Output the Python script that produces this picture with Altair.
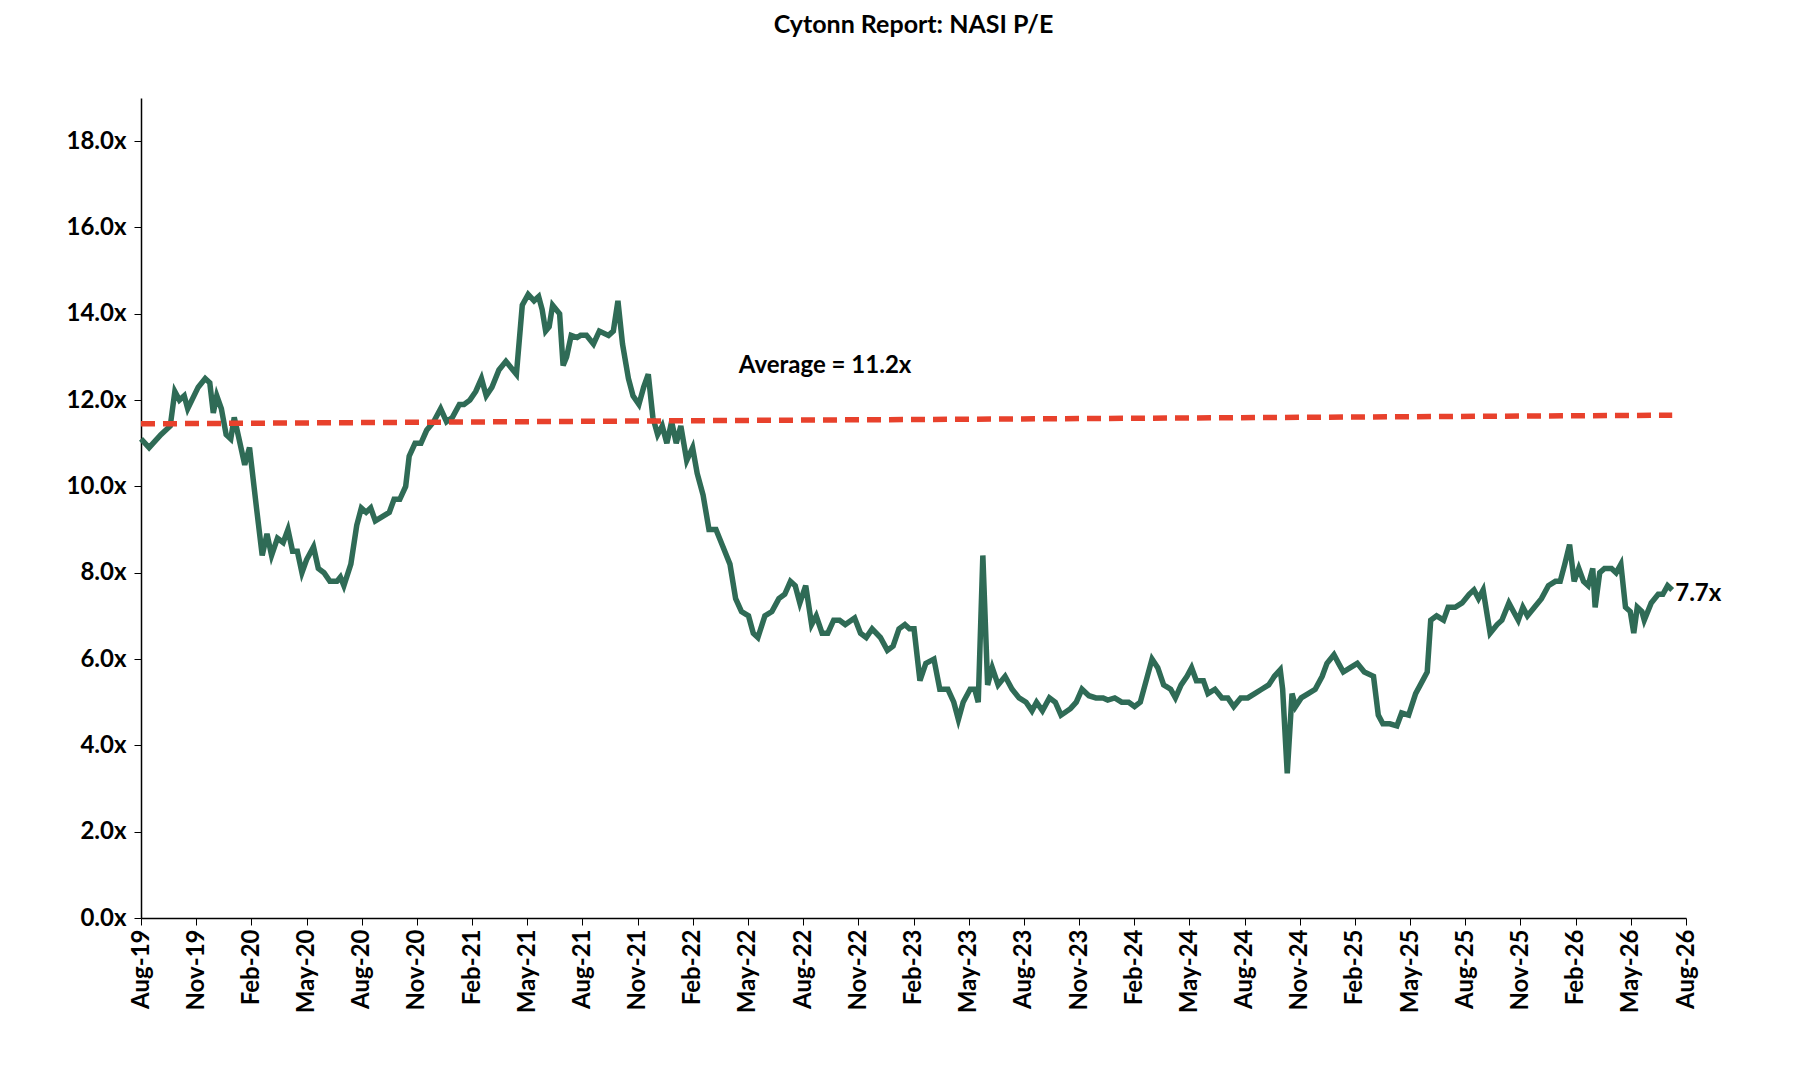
import altair as alt
import pandas as pd

# months since Aug-2019
t = [0,0.44,1.08,1.59,1.84,2.09,2.35,2.54,3.11,3.49,
3.74,3.93,4.12,4.37,4.63,4.88,5.07,5.33,5.64,5.90,
6.28,6.59,6.85,7.10,7.42,7.73,7.99,8.24,8.50,8.75,
9.00,9.38,9.64,9.95,10.27,10.65,10.84,11.03,11.41,11.73,
11.98,12.24,12.49,12.74,13.12,13.50,13.76,14.07,14.39,14.58,
14.90,15.22,15.53,15.91,16.29,16.61,16.93,17.31,17.56,17.88,
18.20,18.51,18.77,19.08,19.46,19.84,20.22,20.41,20.73,21.05,
21.37,21.62,21.81,22.00,22.19,22.38,22.76,22.95,23.14,23.39,
23.71,23.90,24.22,24.60,24.92,25.42,25.68,25.93,26.18,26.50,
26.75,27.07,27.33,27.58,27.83,28.09,28.34,28.59,28.85,29.10,
29.35,29.67,29.99,30.24,30.56,30.88,31.26,31.64,32.02,32.33,
32.65,33.03,33.29,33.54,33.92,34.30,34.68,35.00,35.31,35.57,
35.82,36.14,36.46,36.71,37.03,37.34,37.66,37.98,38.29,38.80,
39.12,39.43,39.75,40.20,40.58,40.89,41.21,41.53,41.78,42.03,
42.35,42.67,43.11,43.43,43.87,44.19,44.44,44.70,45.08,45.33,
45.52,45.77,46.03,46.28,46.60,46.98,47.36,47.74,48.12,48.44,
48.69,49.01,49.39,49.71,50.02,50.53,50.85,51.16,51.54,51.92,
52.31,52.56,52.94,53.32,53.70,54.02,54.33,54.65,54.97,55.28,
55.60,55.98,56.24,56.55,56.87,57.12,57.38,57.76,58.01,58.39,
58.77,59.09,59.41,59.79,60.17,60.55,60.93,61.31,61.62,61.94,
62.07,62.32,62.58,62.77,63.08,63.46,63.84,64.22,64.48,64.86,
65.11,65.37,65.75,66.13,66.51,67.01,67.27,67.52,67.90,68.28,
68.54,68.92,69.30,69.68,69.93,70.12,70.44,70.82,71.07,71.45,
71.83,72.21,72.47,72.72,72.97,73.35,73.73,73.99,74.37,74.62,
74.88,75.13,75.38,75.76,76.14,76.52,76.90,77.16,77.41,77.67,
77.92,78.17,78.43,78.68,78.93,79.06,79.31,79.57,79.95,80.20,
80.46,80.71,80.97,81.16,81.35,81.60,81.73,82.11,82.49,82.74,
83.00,83.25]

pe = [11.1,10.9,11.2,11.4,12.2,12.0,12.1,11.8,12.3,12.5,
12.4,11.7,12.1,11.8,11.2,11.1,11.6,11.1,10.5,10.9,
9.5,8.4,8.9,8.4,8.8,8.7,9.0,8.5,8.5,8.0,
8.3,8.6,8.1,8.0,7.8,7.8,7.9,7.7,8.2,9.1,
9.5,9.4,9.5,9.2,9.3,9.4,9.7,9.7,10.0,10.7,
11.0,11.0,11.3,11.5,11.8,11.5,11.6,11.9,11.9,12.0,
12.2,12.5,12.1,12.3,12.7,12.9,12.7,12.6,14.2,14.45,
14.3,14.4,14.1,13.6,13.7,14.2,14.0,12.8,13.0,13.5,
13.45,13.5,13.5,13.3,13.6,13.5,13.6,14.3,13.3,12.5,
12.1,11.9,12.3,12.6,11.6,11.2,11.4,11.0,11.5,11.0,
11.4,10.6,10.9,10.3,9.8,9.0,9.0,8.6,8.2,7.4,
7.1,7.0,6.6,6.5,7.0,7.1,7.4,7.5,7.8,7.7,
7.3,7.7,6.8,7.0,6.6,6.6,6.9,6.9,6.8,6.95,
6.6,6.5,6.7,6.5,6.2,6.3,6.7,6.8,6.7,6.7,
5.5,5.9,6.0,5.3,5.3,5.0,4.6,5.0,5.3,5.3,
5.0,8.4,5.4,5.8,5.4,5.6,5.3,5.1,5.0,4.8,
5.0,4.8,5.1,5.0,4.7,4.85,5.0,5.3,5.15,5.1,
5.1,5.05,5.1,5.0,5.0,4.9,5.0,5.5,6.0,5.8,
5.4,5.3,5.1,5.4,5.6,5.8,5.5,5.5,5.2,5.3,
5.1,5.1,4.9,5.1,5.1,5.2,5.3,5.4,5.6,5.75,
5.3,3.35,5.2,4.9,5.1,5.2,5.3,5.6,5.9,6.1,
5.9,5.7,5.8,5.9,5.7,5.6,4.7,4.5,4.5,4.45,
4.75,4.7,5.2,5.5,5.7,6.9,7.0,6.9,7.2,7.2,
7.3,7.5,7.6,7.4,7.6,6.6,6.8,6.9,7.3,7.1,
6.9,7.2,7.0,7.2,7.4,7.7,7.8,7.8,8.2,8.65,
7.8,8.1,7.8,7.7,8.1,7.2,8.0,8.1,8.1,8.0,
8.2,7.2,7.1,6.6,7.2,7.1,6.9,7.3,7.5,7.5,
7.7,7.6]

tick_labels = ["Aug-19","Nov-19","Feb-20","May-20","Aug-20","Nov-20","Feb-21","May-21",
               "Aug-21","Nov-21","Feb-22","May-22","Aug-22","Nov-22","Feb-23","May-23",
               "Aug-23","Nov-23","Feb-24","May-24","Aug-24","Nov-24","Feb-25","May-25",
               "Aug-25","Nov-25","Feb-26","May-26","Aug-26"]
avg_t = [0, 83.25]
avg_v = [11.45, 11.65]
avg_label = "Average = 11.2x"
last_label = "7.7x"

FONT = "Lato"
n = min(len(t), len(pe))
df = pd.DataFrame({"t": t[:n], "pe": pe[:n]})
avg_df = pd.DataFrame({"t": avg_t, "v": avg_v})

xs = alt.Scale(domain=[0, 84], nice=False)
ys = alt.Scale(domain=[0, 19], nice=False)
lab_js = "[" + ",".join(f"'{l}'" for l in tick_labels) + "]"
xaxis = alt.Axis(values=list(range(0, 85, 3)), labelExpr=f"{lab_js}[round(datum.value/3)]",
                 labelAngle=270, labelFontSize=24, labelFontWeight="bold", labelFont=FONT,
                 labelColor="black", grid=False, domainColor="black", tickColor="black",
                 title=None, tickSize=7, labelPadding=4, domainWidth=1.5)
yaxis = alt.Axis(values=list(range(0, 19, 2)), labelExpr="format(datum.value,'.1f')+'x'",
                 labelFontSize=24, labelFontWeight="bold", labelFont=FONT, labelColor="black",
                 grid=False, domainColor="black", tickColor="black", title=None, tickSize=7,
                 labelPadding=8, domainWidth=1.5)

line = alt.Chart(df).mark_line(color="#2f6b56", strokeWidth=5.5).encode(
    x=alt.X("t:Q", scale=xs, axis=xaxis), y=alt.Y("pe:Q", scale=ys, axis=yaxis))
avg = alt.Chart(avg_df).mark_line(color="#e8412c", strokeWidth=5.5, strokeDash=[14, 8]).encode(
    x="t:Q", y="v:Q")
avg_txt = alt.Chart(pd.DataFrame({"t": [32.5], "v": [12.8], "s": [avg_label]})).mark_text(
    fontSize=24, fontWeight="bold", font=FONT, align="left", color="black").encode(
    x="t:Q", y="v:Q", text="s:N")
last_txt = alt.Chart(pd.DataFrame({"t": [t[n-1]], "v": [pe[n-1]], "s": [last_label]})).mark_text(
    fontSize=24, fontWeight="bold", font=FONT, align="left", dx=3, dy=4, color="black").encode(
    x="t:Q", y="v:Q", text="s:N")

chart = (line + avg + avg_txt + last_txt).properties(
    width=1545, height=820,
    padding={"left": 58, "top": 5, "right": 5, "bottom": 5},
    title=alt.TitleParams("Cytonn Report: NASI P/E", fontSize=25, font=FONT, fontWeight="bold",
                          color="black", offset=60),
).configure(background="white").configure_view(strokeWidth=0)

chart.save("out.html", embed_options={"renderer": "svg", "actions": False})
